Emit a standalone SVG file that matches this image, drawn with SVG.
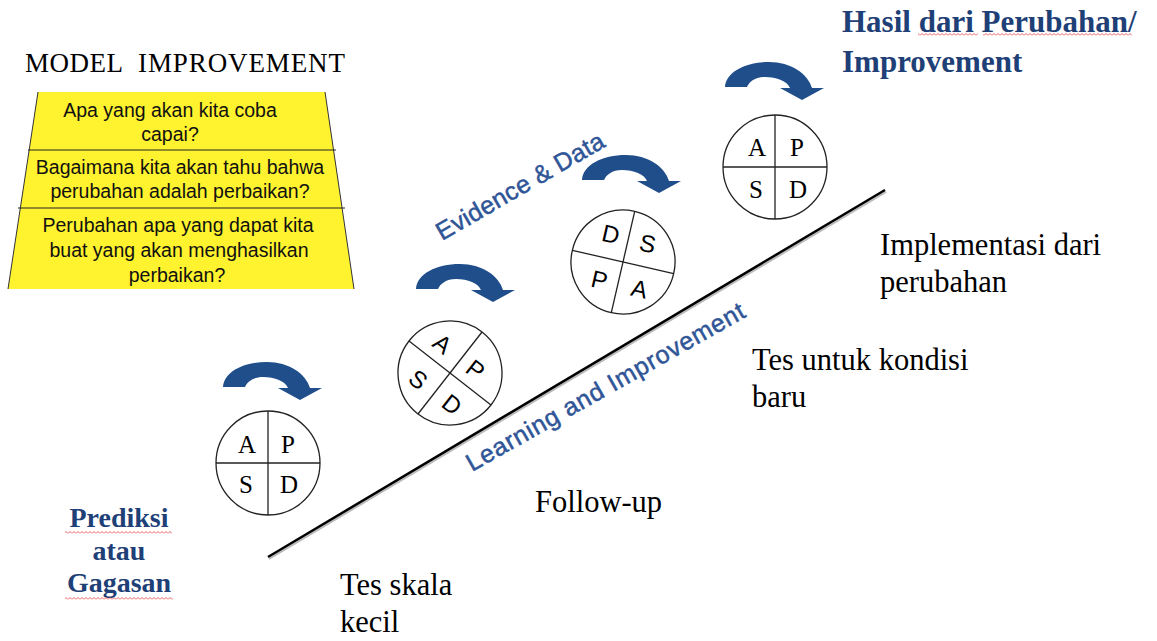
<svg xmlns="http://www.w3.org/2000/svg" width="1157" height="641" viewBox="0 0 1157 641">
<style>
.serif{font-family:"Liberation Serif","Times New Roman",serif;fill:#000}
.q{font-family:"Liberation Sans",Arial,sans-serif;font-size:19.5px;fill:#111;text-anchor:middle}
.head{font-family:"Liberation Serif","Times New Roman",serif;font-weight:bold;fill:#1f3f77}
.rot{font-family:"Liberation Sans",Arial,sans-serif;font-size:25px;fill:#2f5597;stroke:#2f5597;stroke-width:0.5}
.lbl{font-size:30.5px}
.pd{fill:#fff;stroke:#222;stroke-width:1.3}
.div{stroke:#222;stroke-width:1.3}
.ls{font-family:"Liberation Serif","Times New Roman",serif;font-size:25px;fill:#000;text-anchor:middle}
.lsa{font-family:"Liberation Sans",Arial,sans-serif;font-size:24px;fill:#000;text-anchor:middle}
.arr{fill:#1f4e8b}
</style>
<defs>
<path id="curl" d="M0,25 C1,10 20,0 44,0 C66,0 83,12 87,26 L99,26 L77,38 L55,26 L65,26 C62,19 52,15 40,15 C30,15 24,20 22,25 Z"/>
<pattern id="sq" width="4" height="3" patternUnits="userSpaceOnUse"><path d="M0,2.5 L2,0.5 L4,2.5" fill="none" stroke="#e0383b" stroke-width="0.8"/></pattern>
</defs>
<rect width="1157" height="641" fill="#fff"/>

<g id="title">
<text class="serif" x="25" y="72" font-size="27" textLength="98">MODEL</text>
<text class="serif" x="138" y="72" font-size="27" textLength="207">IMPROVEMENT</text>
</g>

<g id="questions">
<polygon points="38,92 325,92 354,289 8,289" fill="#fff22e"/>
<line x1="38" y1="92" x2="8" y2="289" stroke="#333" stroke-width="1"/>
<line x1="325" y1="92" x2="354" y2="289" stroke="#333" stroke-width="1"/>
<line x1="28" y1="150" x2="336" y2="150" stroke="#222" stroke-width="1.2"/>
<line x1="18" y1="208" x2="345" y2="208" stroke="#222" stroke-width="1.2"/>
<text class="q" x="170" y="117">Apa yang akan kita coba</text>
<text class="q" x="170" y="141">capai?</text>
<text class="q" x="180" y="174">Bagaimana kita akan tahu bahwa</text>
<text class="q" x="180" y="198">perubahan adalah perbaikan?</text>
<text class="q" x="178" y="232">Perubahan apa yang dapat kita</text>
<text class="q" x="179" y="257">buat yang akan menghasilkan</text>
<text class="q" x="177" y="282">perbaikan?</text>
</g>

<g id="connectors">
<line x1="269" y1="559" x2="886" y2="192" stroke="#bbb" stroke-width="2"/>
<line x1="268" y1="557" x2="885" y2="190" stroke="#000" stroke-width="2.5"/>
<use href="#curl" class="arr" x="223" y="362"/>
<use href="#curl" class="arr" x="416" y="264"/>
<use href="#curl" class="arr" x="582" y="155"/>
<use href="#curl" class="arr" x="725" y="62"/>
</g>

<g id="pdsa1" transform="translate(268,463)">
<circle r="52" class="pd"/>
<line class="div" x1="0" y1="-52" x2="0" y2="52"/><line class="div" x1="-52" y1="0" x2="52" y2="0"/>
<text class="ls" x="-21" y="-10">A</text><text class="ls" x="20" y="-10">P</text>
<text class="ls" x="-22" y="30">S</text><text class="ls" x="21" y="30">D</text>
</g>

<g id="pdsa2" transform="translate(450,373) rotate(38)">
<circle r="52" class="pd"/>
<line class="div" x1="0" y1="-52" x2="0" y2="52"/><line class="div" x1="-52" y1="0" x2="52" y2="0"/>
<text class="lsa" x="-24" y="-10">A</text><text class="lsa" x="18" y="-10">P</text>
<text class="lsa" x="-21" y="33">S</text><text class="lsa" x="21" y="32">D</text>
</g>

<g id="pdsa3" transform="translate(623,262) rotate(13)">
<circle r="52" class="pd"/>
<line class="div" x1="0" y1="-52" x2="0" y2="52"/><line class="div" x1="-52" y1="0" x2="52" y2="0"/>
<text class="lsa" x="-18" y="-16">D</text><text class="lsa" x="20" y="-15">S</text>
<text class="lsa" x="-19" y="31">P</text><text class="lsa" x="22" y="31">A</text>
</g>

<g id="pdsa4" transform="translate(775,167)">
<circle r="52" class="pd"/>
<line class="div" x1="0" y1="-52" x2="0" y2="52"/><line class="div" x1="-52" y1="0" x2="52" y2="0"/>
<text class="ls" x="-18" y="-11">A</text><text class="ls" x="22" y="-11">P</text>
<text class="ls" x="-19" y="31">S</text><text class="ls" x="23" y="31">D</text>
</g>

<g id="evidence">
<text class="rot" transform="translate(442,241) rotate(-30)" textLength="190">Evidence &amp; Data</text>
</g>
<g id="learning">
<text class="rot" transform="translate(472,472) rotate(-29.5)" textLength="316">Learning and Improvement</text>
</g>

<g id="hasil">
<text class="head" x="842" y="32" font-size="31">Hasil dari Perubahan/</text>
<text class="head" x="842" y="72" font-size="31">Improvement</text>
<rect x="918" y="33" width="60" height="3" fill="url(#sq)"/>
<rect x="983" y="33" width="149" height="3" fill="url(#sq)"/>
</g>

<g id="prediksi">
<text class="head" x="119" y="527" font-size="28" text-anchor="middle">Prediksi</text>
<text class="head" x="119" y="560" font-size="28" text-anchor="middle">atau</text>
<text class="head" x="119" y="592" font-size="28" text-anchor="middle">Gagasan</text>
<rect x="65" y="531" width="107" height="3" fill="url(#sq)"/>
<rect x="65" y="597" width="108" height="3" fill="url(#sq)"/>
</g>

<g id="implementasi">
<text class="serif lbl" x="880" y="255">Implementasi dari</text>
<text class="serif lbl" x="880" y="292">perubahan</text>
</g>
<g id="tes-kondisi">
<text class="serif lbl" x="752" y="370">Tes untuk kondisi</text>
<text class="serif lbl" x="752" y="407">baru</text>
</g>
<g id="follow-up">
<text class="serif lbl" x="535" y="512">Follow-up</text>
</g>
<g id="tes-skala">
<text class="serif lbl" x="340" y="595">Tes skala</text>
<text class="serif lbl" x="340" y="632">kecil</text>
</g>
</svg>
